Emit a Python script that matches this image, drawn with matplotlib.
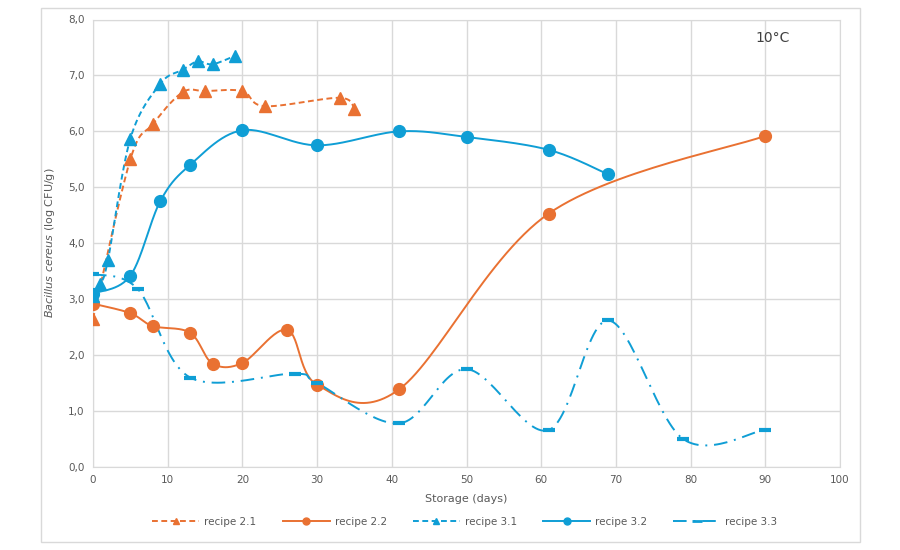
import numpy as np
import matplotlib
matplotlib.use("Agg")
import matplotlib.pyplot as plt
from matplotlib.patches import Rectangle
from matplotlib.ticker import FuncFormatter

plt.rcParams['font.family'] = ['DejaVu Sans']
plt.rcParams['mathtext.fontset'] = 'custom'
plt.rcParams['mathtext.it'] = 'DejaVu Sans:italic'

ORANGE = '#E97132'
BLUE = '#0F9ED5'
GRAY_TXT = '#595959'
GRID = '#d9d9d9'

# data
days_21 = [0, 5, 8, 12, 15, 20, 23, 33, 35]
vals_21 = [2.65, 5.5, 6.13, 6.7, 6.72, 6.72, 6.45, 6.6, 6.4]

days_22 = [0, 5, 8, 13, 16, 20, 26, 30, 41, 61, 90]
vals_22 = [2.92, 2.75, 2.52, 2.4, 1.85, 1.86, 2.45, 1.47, 1.39, 4.53, 5.92]

days_31 = [0, 1, 2, 5, 9, 12, 14, 16, 19]
vals_31 = [3.05, 3.28, 3.7, 5.87, 6.85, 7.1, 7.25, 7.2, 7.35]

days_32 = [0, 5, 9, 13, 20, 30, 41, 50, 61, 69]
vals_32 = [3.1, 3.42, 4.75, 5.4, 6.02, 5.75, 6.0, 5.9, 5.67, 5.23]

days_33 = [0, 6, 13, 27, 30, 41, 50, 61, 69, 79, 90]
vals_33 = [3.45, 3.18, 1.6, 1.67, 1.5, 0.78, 1.75, 0.66, 2.62, 0.5, 0.67]

x_ticks = list(range(0, 101, 10))
y_ticks = [0, 1, 2, 3, 4, 5, 6, 7, 8]


def smooth(xs, ys, n=30):
    # Catmull-Rom style bezier smoothing, like a spreadsheet "smoothed line"
    p = np.column_stack([xs, ys]).astype(float)
    p = np.vstack([p[0], p, p[-1]])
    out = []
    t = np.linspace(0, 1, n)[:, None]
    for i in range(1, len(p) - 2):
        p0, p3 = p[i], p[i + 1]
        c1 = p0 + (p[i + 1] - p[i - 1]) / 6
        c2 = p3 - (p[i + 2] - p[i]) / 6
        seg = ((1 - t) ** 3) * p0 + 3 * ((1 - t) ** 2) * t * c1 + 3 * (1 - t) * t ** 2 * c2 + t ** 3 * p3
        out.append(seg)
    seg = np.vstack(out)
    return seg[:, 0], seg[:, 1]


fig = plt.figure(figsize=(9, 5.5), dpi=100)
ax = fig.add_axes([93 / 900, 1 - 467 / 550, (840 - 93) / 900, (467 - 19.5) / 550])

series = [
    (days_21, vals_21, ORANGE, (0, (3, 1.8)), '^', 'recipe 2.1'),
    (days_22, vals_22, ORANGE, '-', 'o', 'recipe 2.2'),
    (days_31, vals_31, BLUE, (0, (3, 1.8)), '^', 'recipe 3.1'),
    (days_32, vals_32, BLUE, '-', 'o', 'recipe 3.2'),
    (days_33, vals_33, BLUE, (0, (7, 3.5, 1, 3.5)), '_', 'recipe 3.3'),
]

handles = []
for xs, ys, col, ls, mk, lab in series:
    sx, sy = smooth(xs, ys)
    ax.plot(sx, sy, color=col, lw=1.4, ls=ls, zorder=3)
    if mk == '_':
        ax.plot(xs, ys, ls='none', marker='_', ms=9, mew=3, color=col, zorder=4)
    else:
        ax.plot(xs, ys, ls='none', marker=mk, ms=8.5, color=col, mec=col, zorder=4)
    h, = ax.plot([], [], color=col, lw=1.4, ls=ls, marker=mk,
                 ms=5 if mk != '_' else 7, mew=1 if mk != '_' else 2)
    handles.append((h, lab))

ax.set_xlim(0, 100)
ax.set_ylim(0, 8)
ax.set_xticks(x_ticks)
ax.set_yticks(y_ticks)
ax.yaxis.set_major_formatter(FuncFormatter(lambda v, p: f"{v:.1f}".replace('.', ',')))
ax.grid(True, color=GRID, lw=1)
ax.set_axisbelow(True)
for s in ax.spines.values():
    s.set_color(GRID)
ax.tick_params(length=0, labelsize=7.5, colors=GRAY_TXT, pad=6)

ax.set_xlabel('Storage (days)', fontsize=8, color=GRAY_TXT, labelpad=6)
ax.set_ylabel(r'$\it{Bacillus\ cereus}$ (log CFU/g)', fontsize=8, color=GRAY_TXT, labelpad=8)

ax.text(91, 7.67, '10°C', fontsize=10, color='#404040', ha='center', va='center')

fig.legend([h for h, _ in handles], [l for _, l in handles],
           loc='center', bbox_to_anchor=(465 / 900, 1 - 522 / 550), ncol=5,
           frameon=False, fontsize=7.5, labelcolor=GRAY_TXT,
           handlelength=4.5, columnspacing=2.5, handletextpad=0.5)

fig.patches.append(Rectangle((40.5 / 900, 1 - 541.5 / 550), (860 - 40.5) / 900, (541.5 - 7.5) / 550,
                             transform=fig.transFigure, fill=False, ec=GRID, lw=1))

fig.savefig('out.png', dpi=100, facecolor='white')
